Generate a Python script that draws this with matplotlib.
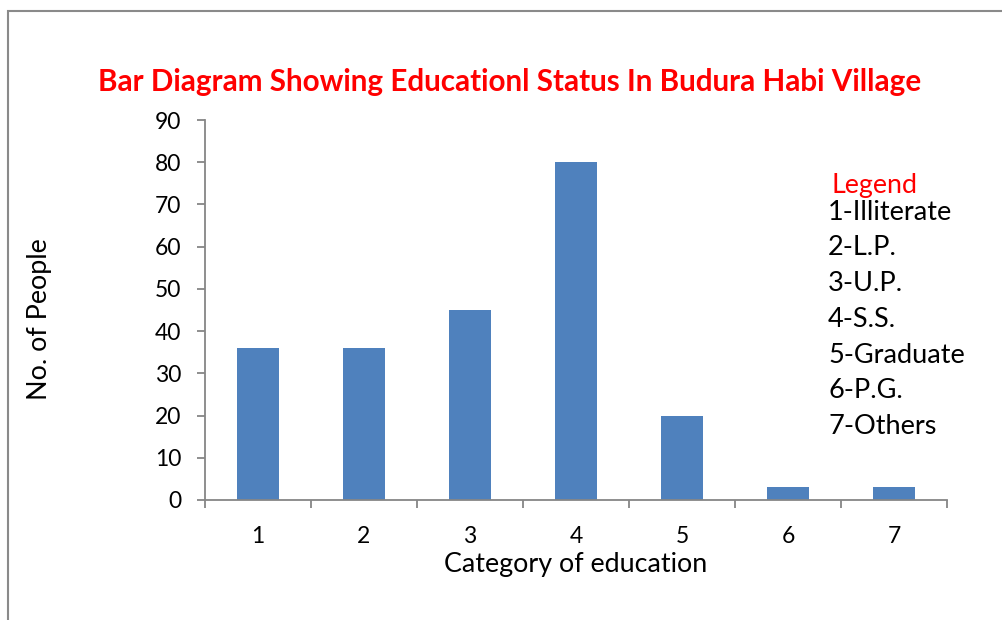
import matplotlib
matplotlib.use("Agg")
import matplotlib.pyplot as plt
from matplotlib.patches import Rectangle
import numpy as np

categories = ["1", "2", "3", "4", "5", "6", "7"]
values = [36, 36, 45, 80, 20, 3, 3]
legend_items = ["1-Illiterate", "2-L.P.", "3-U.P.", "4-S.S.", "5-Graduate", "6-P.G.", "7-Others"]
yticks = [0, 10, 20, 30, 40, 50, 60, 70, 80, 90]

plt.rcParams['font.family'] = ['Lato', 'DejaVu Sans']

fig = plt.figure(figsize=(10.02, 6.2), dpi=100)
fig.patch.set_facecolor('white')

# outer chart border (partially visible)
fig.add_artist(Rectangle((8/1002, -0.1), 1.2, (620-11)/620 + 0.1, transform=fig.transFigure,
                         fill=False, edgecolor='#8a8a8a', linewidth=1.5))

ax = fig.add_axes([205/1002, 120/620, (947-205)/1002, (500-120)/620])
x = np.arange(1, len(values) + 1)
ax.bar(x, values, width=0.4, color='#4F81BD', zorder=2)
ax.set_xlim(0.5, len(values) + 0.5)
ax.set_ylim(0, 90)
ax.set_yticks(yticks)
ax.set_yticklabels([str(v) for v in yticks])
ax.set_xticks(x)
ax.set_xticklabels(categories)
ax.set_xticks(np.arange(0.5, len(values) + 1, 1), minor=True)

for s in ['top', 'right']:
    ax.spines[s].set_visible(False)
for s in ['left', 'bottom']:
    ax.spines[s].set_color('#868686')
    ax.spines[s].set_linewidth(1.3)

ax.tick_params(axis='y', direction='out', length=6, width=1.3, color='#868686',
               labelsize=16.5, pad=11, labelcolor='black')
ax.tick_params(axis='x', which='major', length=0, labelsize=16.5, pad=19, labelcolor='black')
ax.tick_params(axis='x', which='minor', direction='out', length=6, width=1.3, color='#868686')

ax.set_xlabel("Category of education", fontsize=19.4)
ax.xaxis.set_label_coords((576 - 205) / 742, -(552 - 500) / 380)
ax.set_ylabel("No. of People", fontsize=19.4)
ax.yaxis.set_label_coords((52 - 205) / 742, (500 - 319) / 380)

fig.text(510/1002, 1 - 82/620, "Bar Diagram Showing Educationl Status In Budura Habi Village",
         ha='center', va='center', color='#FF0000', fontsize=21.3, fontweight='bold')

fig.text(875/1002, 1 - 185/620, "Legend", ha='center', va='center', color='#FF0000', fontsize=19.3)
for i, item in enumerate(legend_items):
    fig.text(828/1002, 1 - (212 + i * 35.8)/620, item, ha='left', va='center',
             color='black', fontsize=19.5)

fig.savefig("out.png", dpi=100, facecolor='white')
